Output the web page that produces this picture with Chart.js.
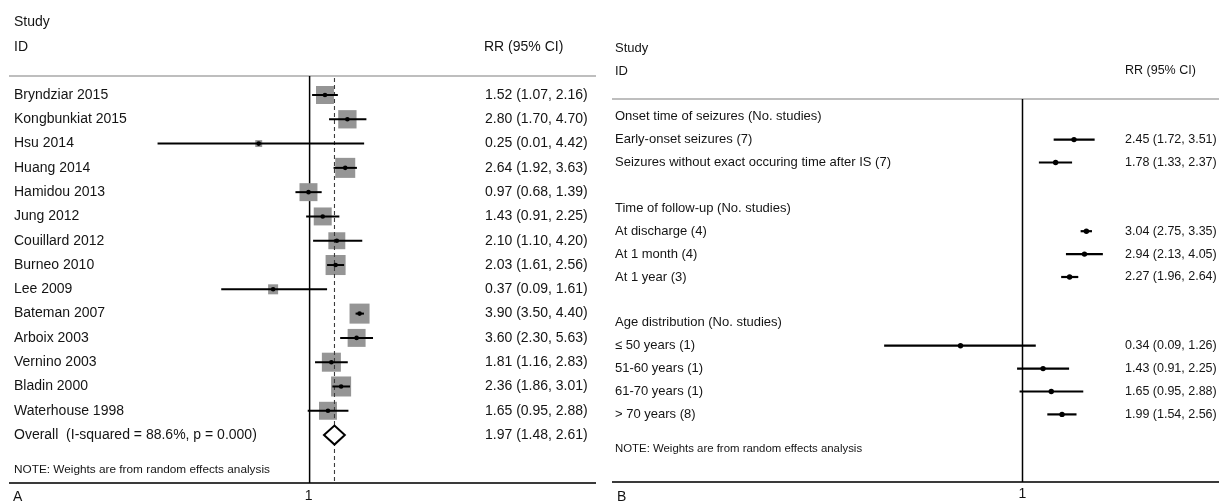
<!DOCTYPE html>
<html>
<head>
<meta charset="utf-8">
<script src="https://cdn.jsdelivr.net/npm/chart.js@4.4.1/dist/chart.umd.min.js"></script>
<style>
  html, body { margin: 0; padding: 0; background: #ffffff; }
  #wrap { position: relative; width: 1219px; height: 503px; overflow: hidden; }
  canvas { position: absolute; top: 0; }
</style>
</head>
<body>
<div id="wrap">
  <canvas id="panelA" width="605" height="503" style="left:0px"></canvas>
  <canvas id="panelB" width="614" height="503" style="left:605px"></canvas>
</div>
<script>
// ---- Panel A: individual studies ----
const studyIds = [
  "Bryndziar 2015", "Kongbunkiat 2015", "Hsu 2014", "Huang 2014", "Hamidou 2013",
  "Jung 2012", "Couillard 2012", "Burneo 2010", "Lee 2009", "Bateman 2007",
  "Arboix 2003", "Vernino 2003", "Bladin 2000", "Waterhouse 1998"
];
const studyRR = [1.52, 2.80, 0.25, 2.64, 0.97, 1.43, 2.10, 2.03, 0.37, 3.90, 3.60, 1.81, 2.36, 1.65];
const studyLo = [1.07, 1.70, 0.01, 1.92, 0.68, 0.91, 1.10, 1.61, 0.09, 3.50, 2.30, 1.16, 1.86, 0.95];
const studyHi = [2.16, 4.70, 4.42, 3.63, 1.39, 2.25, 4.20, 2.56, 1.61, 4.40, 5.63, 2.83, 3.01, 2.88];
// random-effects weights (%)
const studyWeights = [7.4, 7.7, 1.1, 9.2, 7.4, 7.4, 6.6, 9.2, 2.3, 9.2, 7.4, 8.3, 9.2, 7.4];
const overallLabel = "Overall  (I-squared = 88.6%, p = 0.000)";
const overallEst = [1.97, 1.48, 2.61]; // RR, lower, upper

// ---- Panel B: subgroup analyses ----
const subgroupLabels = [
  "Onset time of seizures (No. studies)",
  "Early-onset seizures (7)",
  "Seizures without exact occuring time after IS (7)",
  "",
  "Time of follow-up (No. studies)",
  "At discharge (4)",
  "At 1 month (4)",
  "At 1 year (3)",
  "",
  "Age distribution (No. studies)",
  "\u2264 50 years (1)",
  "51-60 years (1)",
  "61-70 years (1)",
  "> 70 years (8)"
];
const subgroupRR = [null, 2.45, 1.78, null, null, 3.04, 2.94, 2.27, null, null, 0.34, 1.43, 1.65, 1.99];
const subgroupLo = [null, 1.72, 1.33, null, null, 2.75, 2.13, 1.96, null, null, 0.09, 0.91, 0.95, 1.54];
const subgroupHi = [null, 3.51, 2.37, null, null, 3.35, 4.05, 2.64, null, null, 1.26, 2.25, 2.88, 2.56];

const xTickLabels = ["1"];
const noteText = "NOTE: Weights are from random effects analysis";

// ---- shared drawing helpers ----
const FONT = '"Liberation Sans", Arial, Helvetica, sans-serif';
const INK = '#141414';

function logRange(g) {
  return {
    min: Math.pow(10, (0 - g.onePx) / g.decadePx),
    max: Math.pow(10, (g.width - g.onePx) / g.decadePx)
  };
}
function rowAt(g, px) { return (px - g.firstRowPx) / g.rowPx; }
function fmt(v) { return v.toFixed(2); }
function ciText(rr, lo, hi) { return fmt(rr) + " (" + fmt(lo) + ", " + fmt(hi) + ")"; }

function hline(ctx, x0, x1, y, color, w) {
  ctx.save();
  ctx.strokeStyle = color; ctx.lineWidth = w;
  ctx.beginPath(); ctx.moveTo(x0, y); ctx.lineTo(x1, y); ctx.stroke();
  ctx.restore();
}
function vline(ctx, x, y0, y1, color, w, dash) {
  ctx.save();
  ctx.strokeStyle = color; ctx.lineWidth = w;
  if (dash) ctx.setLineDash(dash);
  ctx.beginPath(); ctx.moveTo(x, y0); ctx.lineTo(x, y1); ctx.stroke();
  ctx.restore();
}
function label(ctx, str, x, y, size, align) {
  ctx.save();
  ctx.fillStyle = INK;
  ctx.font = size + 'px ' + FONT;
  ctx.textAlign = align || 'left';
  ctx.textBaseline = 'middle';
  ctx.fillText(str, x, y);
  ctx.restore();
}

function baseOptions(g) {
  const r = logRange(g);
  return {
    responsive: false,
    animation: false,
    events: [],
    layout: { padding: 0, autoPadding: false },
    plugins: { legend: { display: false }, tooltip: { enabled: false } },
    scales: {
      x: { type: 'logarithmic', bounds: 'data', min: r.min, max: r.max, display: false },
      y: { type: 'linear', bounds: 'data', min: rowAt(g, 0), max: rowAt(g, g.height), reverse: true, display: false }
    }
  };
}

function ciDatasets(rr, lo, hi, clipMin, clipMax, width) {
  const sets = [];
  rr.forEach((v, i) => {
    if (v === null) return;
    sets.push({
      type: 'scatter',
      showLine: true,
      data: [{ x: Math.max(lo[i], clipMin), y: i }, { x: Math.min(hi[i], clipMax), y: i }],
      borderColor: '#000000',
      borderWidth: width,
      pointRadius: 0,
      order: 2
    });
  });
  return sets;
}

// ---- Panel A ----
const geomA = { width: 605, height: 503, onePx: 309.6, decadePx: 84.5, firstRowPx: 95, rowPx: 24.29 };
const plotLimitA = [1 / 63, 63];

const pointsA = studyRR.map((v, i) => ({ x: v, y: i }));
const overallRow = studyIds.length;

const forestA = {
  id: 'forestA',
  beforeDatasetsDraw(chart) {
    const ctx = chart.ctx, xs = chart.scales.x;
    hline(ctx, 9, 596, 76, '#a9a9a9', 1.5);
    hline(ctx, 9, 596, 483, '#3a3a3a', 2);
    vline(ctx, xs.getPixelForValue(1), 76, 483, '#000000', 1.5);
  },
  afterDatasetsDraw(chart) {
    const ctx = chart.ctx, xs = chart.scales.x, ys = chart.scales.y;
    // pooled estimate diamond
    const yc = ys.getPixelForValue(overallRow);
    const xl = xs.getPixelForValue(overallEst[1]);
    const xm = xs.getPixelForValue(overallEst[0]);
    const xr = xs.getPixelForValue(overallEst[2]);
    ctx.save();
    ctx.beginPath();
    ctx.moveTo(xl, yc); ctx.lineTo(xm, yc - 9.5); ctx.lineTo(xr, yc); ctx.lineTo(xm, yc + 9.5); ctx.closePath();
    ctx.fillStyle = '#ffffff'; ctx.fill();
    ctx.strokeStyle = '#000000'; ctx.lineWidth = 2; ctx.lineJoin = 'miter'; ctx.stroke();
    ctx.restore();

    // headers
    label(ctx, "Study", 14, 21.7, 14);
    label(ctx, "ID", 14, 46.7, 14);
    label(ctx, "RR (95% CI)", 484, 46.7, 14);
    // rows
    studyIds.forEach((s, i) => {
      const y = ys.getPixelForValue(i);
      label(ctx, s, 14, y, 14);
      label(ctx, ciText(studyRR[i], studyLo[i], studyHi[i]), 485, y, 14);
    });
    label(ctx, overallLabel, 14, yc, 14);
    label(ctx, ciText(overallEst[0], overallEst[1], overallEst[2]), 485, yc, 14);
    label(ctx, noteText, 14, 470, 11.8);
    // axis tick and panel letter
    xTickLabels.forEach(t => label(ctx, t, xs.getPixelForValue(Number(t)) - 1, 496.5, 14, 'center'));
    label(ctx, "A", 13, 497.5, 14);
  }
};

const optsA = baseOptions(geomA);
new Chart(document.getElementById('panelA'), {
  type: 'scatter',
  data: {
    datasets: [
      {
        // study weight boxes (area proportional to weight)
        data: pointsA,
        pointStyle: 'rect',
        pointRadius: ctx => 6.6 * Math.sqrt(studyWeights[ctx.dataIndex]) / Math.SQRT2,
        backgroundColor: '#959595',
        borderWidth: 0,
        order: 4
      },
      {
        // pooled estimate reference line
        type: 'scatter',
        showLine: true,
        data: [{ x: overallEst[0], y: rowAt(geomA, 78) }, { x: overallEst[0], y: rowAt(geomA, 483) }],
        borderColor: '#3c3c3c',
        borderWidth: 1.1,
        borderDash: [4, 3],
        pointRadius: 0,
        order: 3
      },
      ...ciDatasets(studyRR, studyLo, studyHi, plotLimitA[0], plotLimitA[1], 2),
      {
        data: pointsA,
        pointStyle: 'circle',
        pointRadius: 2.3,
        backgroundColor: '#000000',
        borderWidth: 0,
        order: 1
      }
    ]
  },
  options: optsA,
  plugins: [forestA]
});

// ---- Panel B ----
const geomB = { width: 614, height: 503, onePx: 417.5, decadePx: 132.3, firstRowPx: 116.7, rowPx: 22.9 };

const pointsB = [];
subgroupRR.forEach((v, i) => { if (v !== null) pointsB.push({ x: v, y: i }); });

const forestB = {
  id: 'forestB',
  beforeDatasetsDraw(chart) {
    const ctx = chart.ctx, xs = chart.scales.x;
    hline(ctx, 7, 614, 99, '#a9a9a9', 1.5);
    hline(ctx, 7, 614, 482, '#3a3a3a', 2);
    vline(ctx, xs.getPixelForValue(1), 99, 482, '#000000', 1.5);
  },
  afterDatasetsDraw(chart) {
    const ctx = chart.ctx, xs = chart.scales.x, ys = chart.scales.y;
    label(ctx, "Study", 10, 48, 13);
    label(ctx, "ID", 10, 71, 13);
    label(ctx, "RR (95% CI)", 520, 70.5, 12.5);
    subgroupLabels.forEach((s, i) => {
      const y = ys.getPixelForValue(i);
      if (s) label(ctx, s, 10, y, 13);
      if (subgroupRR[i] !== null) label(ctx, ciText(subgroupRR[i], subgroupLo[i], subgroupHi[i]), 520, y, 12.5);
    });
    label(ctx, noteText, 10, 449, 11.4);
    xTickLabels.forEach(t => label(ctx, t, xs.getPixelForValue(Number(t)), 494, 14, 'center'));
    label(ctx, "B", 12, 497.5, 14);
  }
};

const optsB = baseOptions(geomB);
const rangeB = logRange(geomB);
new Chart(document.getElementById('panelB'), {
  type: 'scatter',
  data: {
    datasets: [
      ...ciDatasets(subgroupRR, subgroupLo, subgroupHi, rangeB.min, rangeB.max, 2.2),
      {
        data: pointsB,
        pointStyle: 'circle',
        pointRadius: 2.7,
        backgroundColor: '#000000',
        borderWidth: 0,
        order: 1
      }
    ]
  },
  options: optsB,
  plugins: [forestB]
});
</script>
</body>
</html>
